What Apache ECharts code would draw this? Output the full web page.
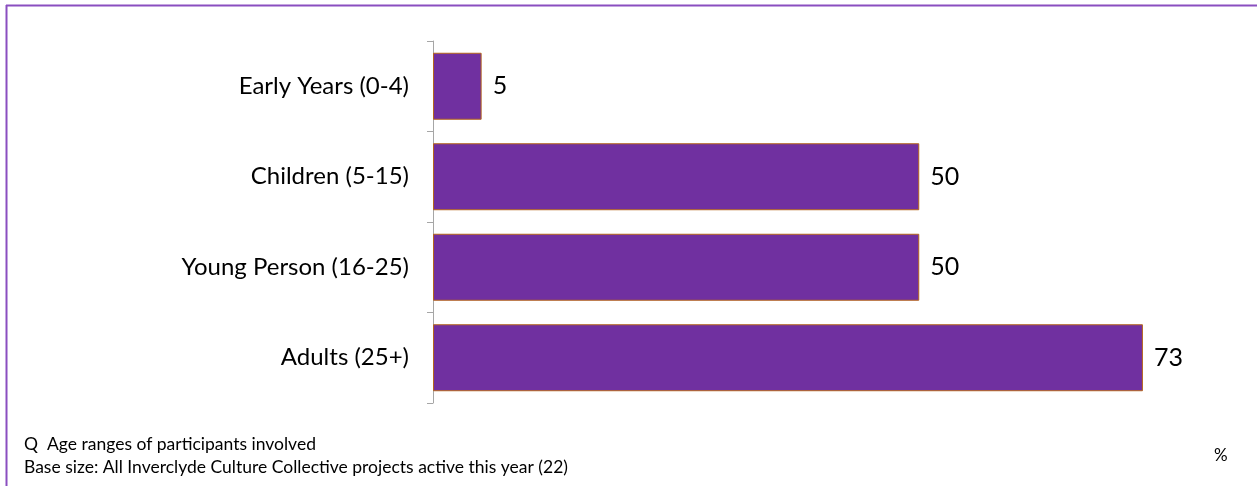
<!DOCTYPE html>
<html>
<head>
<meta charset="utf-8">
<script src="https://cdn.jsdelivr.net/npm/echarts@6/dist/echarts.min.js"></script>
<style>
  html, body { margin: 0; padding: 0; background: #fff; }
  #chart { width: 1257px; height: 486px; }
</style>
</head>
<body>
<div id="chart"></div>
<script>
// Age ranges, listed top to bottom
const categories = ['Early Years (0-4)', 'Children (5-15)', 'Young Person (16-25)', 'Adults (25+)'];
// Share of projects (%) involving each age range
const values = [5, 50, 50, 73];

const questionText = 'Q  Age ranges of participants involved';
const baseText = 'Base size: All Inverclyde Culture Collective projects active this year (22)';
const unitText = '%';

const FONT = 'Lato, "Open Sans", sans-serif';

const chart = echarts.init(document.getElementById('chart'));
chart.setOption({
  animation: false,
  backgroundColor: '#ffffff',
  grid: { left: 433, top: 41, width: 778, height: 362, containLabel: false },
  xAxis: {
    type: 'value',
    min: 0,
    max: 80,
    show: false
  },
  yAxis: {
    type: 'category',
    data: categories,
    inverse: true,
    axisLine: { show: true, lineStyle: { color: '#a6a6a6', width: 1 } },
    axisTick: { show: true, length: 6, lineStyle: { color: '#a6a6a6' } },
    axisLabel: {
      color: '#000000',
      fontFamily: FONT,
      fontSize: 24,
      margin: 24
    },
    splitLine: { show: false }
  },
  series: [{
    type: 'bar',
    data: values,
    barCategoryGap: '26%',
    itemStyle: {
      color: '#7030a0',
      borderColor: '#b5651d',
      borderWidth: 1
    },
    label: {
      show: true,
      position: 'right',
      distance: 11,
      color: '#000000',
      fontFamily: FONT,
      fontSize: 25
    }
  }],
  title: [
    {
      text: questionText,
      left: 19, top: 430,
      textStyle: { fontFamily: FONT, fontSize: 17.5, fontWeight: 'normal', color: '#000' }
    },
    {
      text: baseText,
      left: 19, top: 453,
      textStyle: { fontFamily: FONT, fontSize: 17.5, fontWeight: 'normal', color: '#000' }
    },
    {
      text: unitText,
      left: 1209, top: 442,
      textStyle: { fontFamily: FONT, fontSize: 17, fontWeight: 'normal', color: '#000' }
    }
  ],
  graphic: [
    // frame edges along the top and left
    { type: 'line', shape: { x1: 6, y1: 5.5, x2: 1257, y2: 5.5 }, style: { stroke: '#8a4fc0', lineWidth: 2 } },
    { type: 'line', shape: { x1: 6.5, y1: 5, x2: 6.5, y2: 486 }, style: { stroke: '#8a4fc0', lineWidth: 2 } }
  ]
});
</script>
</body>
</html>
